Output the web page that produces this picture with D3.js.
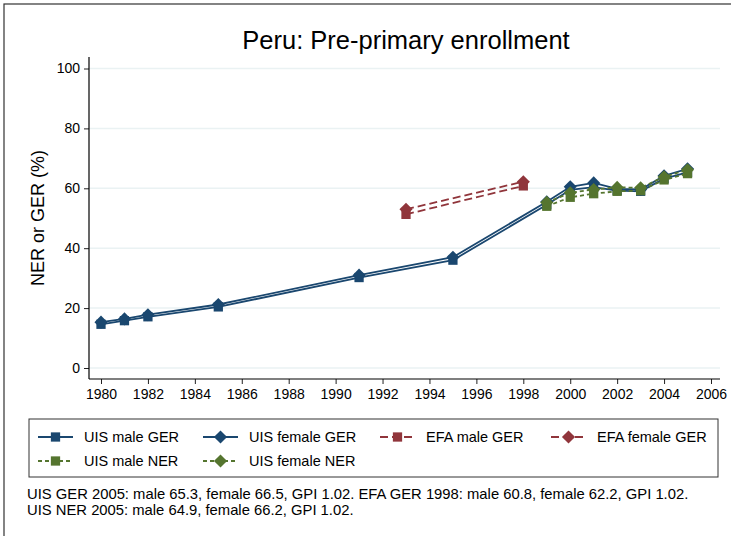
<!DOCTYPE html>
<html>
<head>
<meta charset="utf-8">
<script src="https://cdn.jsdelivr.net/npm/d3@7"></script>
<style>
  body { margin: 0; background: #fff; }
  svg { display: block; font-family: "Liberation Sans", Arial, sans-serif; }
</style>
</head>
<body>
<svg id="chart" width="731" height="536"></svg>
<script>
// values
var uisYears = [1980, 1981, 1982, 1985, 1991, 1995, 1999, 2000, 2001, 2002, 2003, 2004, 2005];
var uisMaleGER = [14.6, 15.8, 17.1, 20.4, 30.2, 36.0, 54.5, 59.5, 60.4, 59.2, 59.0, 63.2, 65.3];
var uisFemaleGER = [15.3, 16.4, 17.8, 21.2, 31.0, 37.0, 55.5, 60.5, 61.8, 59.8, 59.6, 64.2, 66.5];
var efaYears = [1993, 1998];
var efaMaleGER = [51.3, 60.8];
var efaFemaleGER = [53.0, 62.2];
var nerYears = [1999, 2000, 2001, 2002, 2003, 2004, 2005];
var uisMaleNER = [54.0, 57.0, 58.2, 59.0, 59.2, 62.8, 64.9];
var uisFemaleNER = [55.3, 58.5, 59.6, 60.3, 60.2, 63.8, 66.2];
var xTicks = [1980, 1982, 1984, 1986, 1988, 1990, 1992, 1994, 1996, 1998, 2000, 2002, 2004, 2006];
var yTicks = [0, 20, 40, 60, 80, 100];
var notes = [
  "UIS GER 2005: male 65.3, female 66.5, GPI 1.02. EFA GER 1998: male 60.8, female 62.2, GPI 1.02.",
  "UIS NER 2005: male 64.9, female 66.2, GPI 1.02."
];

var navy = "#1a476f", maroon = "#90353b", green = "#55752f";

var series = [
  {name: "UIS male GER", x: uisYears, y: uisMaleGER, color: navy, dash: null, sym: "square"},
  {name: "UIS female GER", x: uisYears, y: uisFemaleGER, color: navy, dash: null, sym: "diamond"},
  {name: "EFA male GER", x: efaYears, y: efaMaleGER, color: maroon, dash: "8,4", sym: "square"},
  {name: "EFA female GER", x: efaYears, y: efaFemaleGER, color: maroon, dash: "8,4", sym: "diamond"},
  {name: "UIS male NER", x: nerYears, y: uisMaleNER, color: green, dash: "4,3", sym: "square"},
  {name: "UIS female NER", x: nerYears, y: uisFemaleNER, color: green, dash: "4,3", sym: "diamond"}
];

var svg = d3.select("#chart");

// outer frame
svg.append("rect").attr("x", 4).attr("y", 4).attr("width", 760).attr("height", 560)
    .attr("fill", "none").attr("stroke", "#333").attr("stroke-width", 1.2);

var x = d3.scaleLinear().domain([1980, 2006]).range([101, 711]);
var y = d3.scaleLinear().domain([0, 100]).range([368, 68.5]);
var plotL = 89, plotR = 720, plotB = 379, plotT = 57;

// gridlines
svg.append("g").selectAll("line").data(yTicks).enter().append("line")
    .attr("x1", plotL).attr("x2", plotR)
    .attr("y1", function(d) { return y(d); }).attr("y2", function(d) { return y(d); })
    .attr("stroke", "#eaf2f3").attr("stroke-width", 1.5);

// axes
var yAxis = svg.append("g").attr("transform", "translate(" + plotL + ",0)")
    .call(d3.axisLeft(y).tickValues(yTicks).tickSize(5).tickPadding(4));
var xAxis = svg.append("g").attr("transform", "translate(0," + plotB + ")")
    .call(d3.axisBottom(x).tickValues(xTicks).tickFormat(d3.format("d")).tickSize(5).tickPadding(5));
[yAxis, xAxis].forEach(function(a) {
    a.select(".domain").remove();
    a.selectAll("line").attr("stroke", "#222");
    a.selectAll("text").attr("font-size", 14).attr("fill", "#000")
        .attr("font-family", "Liberation Sans, Arial, sans-serif");
});
svg.append("line").attr("x1", plotL).attr("x2", plotL).attr("y1", plotT).attr("y2", plotB)
    .attr("stroke", "#000").attr("stroke-width", 1.2);
svg.append("line").attr("x1", plotL).attr("x2", plotR).attr("y1", plotB).attr("y2", plotB)
    .attr("stroke", "#000").attr("stroke-width", 1.2);

// titles
svg.append("text").attr("x", 406).attr("y", 49).attr("text-anchor", "middle")
    .attr("font-size", 25.5).text("Peru: Pre-primary enrollment");
svg.append("text").attr("transform", "translate(44,218) rotate(-90)").attr("text-anchor", "middle")
    .attr("font-size", 18).text("NER or GER (%)");

function symbol(g, type, cx, cy, color) {
    var rot = type == "square" ? 0 : 45;
    g.append("path").attr("d", d3.symbol().type(d3.symbolSquare).size(86))
        .attr("transform", "translate(" + cx + "," + cy + ") rotate(" + rot + ")")
        .attr("fill", color);
}

var line = d3.line();
series.forEach(function(s) {
    var pts = s.x.map(function(d, i) { return [x(d), y(s.y[i])]; });
    var g = svg.append("g");
    g.append("path").attr("d", line(pts)).attr("fill", "none")
        .attr("stroke", s.color).attr("stroke-width", 1.8)
        .attr("stroke-dasharray", s.dash);
    pts.forEach(function(p) { symbol(g, s.sym, p[0], p[1], s.color); });
});

// legend
svg.append("rect").attr("x", 29).attr("y", 419).attr("width", 689).attr("height", 58)
    .attr("fill", "#fff").attr("stroke", "#333").attr("stroke-width", 1);
var colX = [38, 203, 380, 551];
var rowY = [437, 461];
series.forEach(function(s, i) {
    var lx = colX[i % 4], ly = rowY[Math.floor(i / 4)];
    var g = svg.append("g");
    g.append("line").attr("x1", lx).attr("x2", lx + 35).attr("y1", ly).attr("y2", ly)
        .attr("stroke", s.color).attr("stroke-width", 1.8).attr("stroke-dasharray", s.dash);
    symbol(g, s.sym, lx + 17.5, ly, s.color);
    g.append("text").attr("x", lx + 46).attr("y", ly + 5).attr("font-size", 14.5).text(s.name);
});

// notes
svg.selectAll("text.note").data(notes).enter().append("text").attr("class", "note")
    .attr("x", 27).attr("y", function(d, i) { return 499 + i * 16; })
    .attr("font-size", 14.8).text(function(d) { return d; });
</script>
</body>
</html>
